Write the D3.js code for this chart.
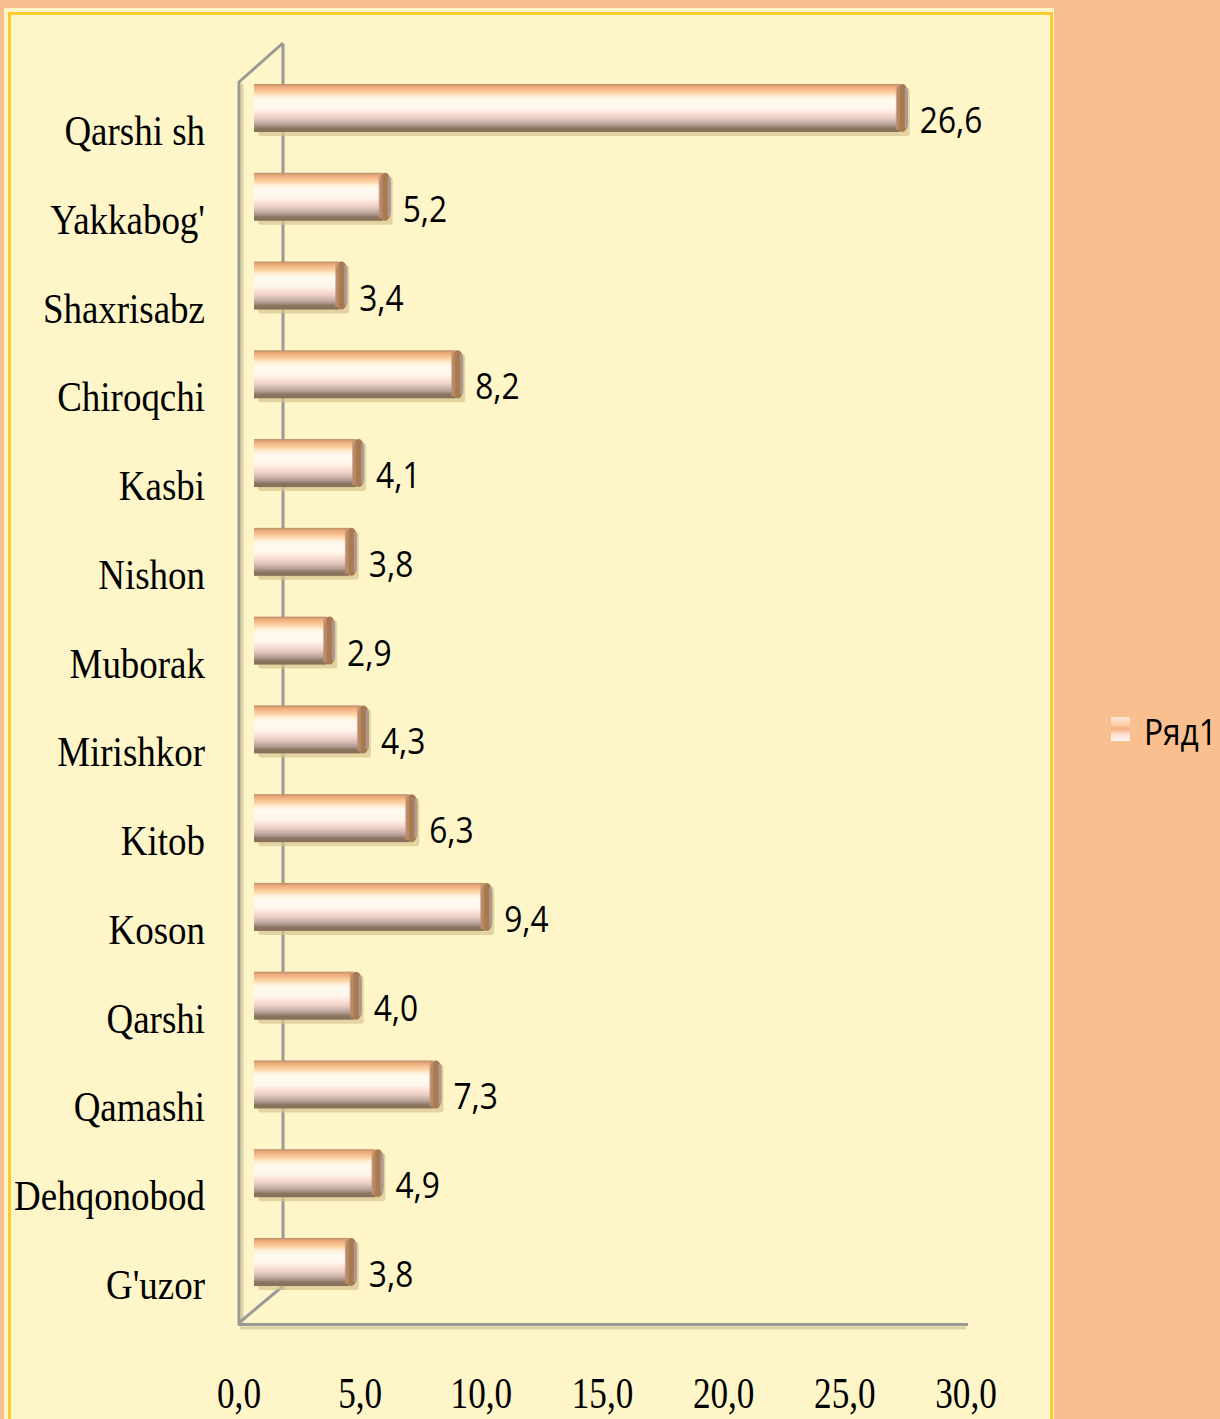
<!DOCTYPE html>
<html><head><meta charset="utf-8">
<script src="https://cdn.jsdelivr.net/npm/d3@7"></script>
<style>html,body{margin:0;padding:0;background:#F9BF8F;}svg{display:block;}</style>
</head><body>
<svg id="c" width="1220" height="1419"></svg>
<script>
const categories = ["Qarshi sh","Yakkabog'","Shaxrisabz","Chiroqchi","Kasbi","Nishon","Muborak","Mirishkor","Kitob","Koson","Qarshi","Qamashi","Dehqonobod","G'uzor"];
const values = [26.6,5.2,3.4,8.2,4.1,3.8,2.9,4.3,6.3,9.4,4.0,7.3,4.9,3.8];
const tickValues = [0,5,10,15,20,25,30];
const seriesName = "Ряд1";

const svg = d3.select("#c");
const fmt = v => v.toFixed(1).replace(".", ",");

// panel
svg.append("rect").attr("x",0).attr("y",0).attr("width",1220).attr("height",1419).attr("fill","#F9BF8F");
svg.append("rect").attr("x",4).attr("y",8).attr("width",1050).attr("height",1430).attr("fill","#FEF6C8");
svg.append("rect").attr("x",9.5).attr("y",13.5).attr("width",1042).attr("height",1430)
  .attr("fill","#FEF6C8").attr("stroke","#FFC934").attr("stroke-width",3);

const defs = svg.append("defs");
const g1 = defs.append("linearGradient").attr("id","barGrad").attr("x1",0).attr("y1",0).attr("x2",0).attr("y2",1);
[[0,"#b88c68"],[0.05,"#e8a878"],[0.1,"#f4b888"],[0.18,"#fdd2a2"],[0.26,"#fff0d8"],[0.34,"#fffaf0"],[0.52,"#fff6ec"],[0.6,"#fde4da"],[0.7,"#ecd0c6"],[0.78,"#d0b8b0"],[0.86,"#b09a90"],[0.92,"#8c7460"],[1,"#857058"]]
 .forEach(([o,c])=>g1.append("stop").attr("offset",o).attr("stop-color",c));
const g2 = defs.append("linearGradient").attr("id","legGrad").attr("x1",0).attr("y1",0).attr("x2",0).attr("y2",1);
[[0,"#fde8e0"],[0.3,"#fcd0a8"],[0.5,"#f4b080"],[0.75,"#fde6d8"],[1,"#fff4ee"]]
 .forEach(([o,c])=>g2.append("stop").attr("offset",o).attr("stop-color",c));

// scales
const yC = d3.scalePoint().domain(categories).range([108, 1262]);
const xBar = d3.scaleLinear().domain([0,30]).range([265, 990]);
const xAxis = d3.scaleLinear().domain([0,30]).range([239, 966]);
const barH = 48;
const barLeft = xBar(0) - 11;

// 3D frame lines
const gray = "#9a9a96";
svg.append("line").attr("x1",283).attr("y1",44).attr("x2",283).attr("y2",1290).attr("stroke",gray).attr("stroke-width",3);
svg.append("line").attr("x1",242).attr("y1",84).attr("x2",242).attr("y2",1326).attr("stroke","#dcd2a6").attr("stroke-width",3);
svg.append("line").attr("x1",239).attr("y1",81).attr("x2",239).attr("y2",1325).attr("stroke",gray).attr("stroke-width",3);
svg.append("line").attr("x1",239).attr("y1",82).attr("x2",283).attr("y2",43).attr("stroke",gray).attr("stroke-width",3);
svg.append("line").attr("x1",240).attr("y1",1322).attr("x2",283).attr("y2",1286).attr("stroke",gray).attr("stroke-width",3);
svg.append("line").attr("x1",240).attr("y1",1328).attr("x2",966).attr("y2",1328).attr("stroke","#dcd2a6").attr("stroke-width",3);
svg.append("line").attr("x1",238).attr("y1",1324.5).attr("x2",968).attr("y2",1324.5).attr("stroke",gray).attr("stroke-width",3);

// bars
const bars = svg.append("g").selectAll("g").data(categories).join("g");
bars.append("rect").attr("class","shadow")
  .attr("x", barLeft+4).attr("y", d=>yC(d)-barH/2+4)
  .attr("width", (d,i)=>xBar(values[i])-barLeft-2).attr("height", barH)
  .attr("fill","#d6c490").attr("opacity",0.7).attr("rx",3);
bars.append("rect")
  .attr("x", barLeft).attr("y", d=>yC(d)-barH/2)
  .attr("width", (d,i)=>xBar(values[i])-barLeft-8).attr("height", barH)
  .attr("fill","url(#barGrad)");
bars.append("rect")
  .attr("x", (d,i)=>xBar(values[i])-11).attr("y", d=>yC(d)-barH/2)
  .attr("width", 11).attr("height", barH).attr("rx",5).attr("ry",10)
  .attr("fill","#a87a52");
bars.append("rect")
  .attr("x", (d,i)=>xBar(values[i])-3).attr("y", d=>yC(d)-barH/2+4)
  .attr("width", 3).attr("height", barH-8)
  .attr("fill","#b0a0a0").attr("opacity",0.8);
bars.append("rect")
  .attr("x", (d,i)=>xBar(values[i])-12).attr("y", d=>yC(d)-barH/2+2)
  .attr("width", 4).attr("height", barH-4)
  .attr("fill","#c09070").attr("opacity",0.7);

// value labels
svg.append("g").selectAll("text").data(categories).join("text")
  .attr("transform",(d,i)=>`translate(${xBar(values[i])+12},${yC(d)+25}) scale(0.88,1)`)
  .attr("font-family","'Open Sans','Noto Sans',sans-serif").attr("font-size",36).attr("fill","#000")
  .text((d,i)=>fmt(values[i]));

// category labels
svg.append("g").selectAll("text").data(categories).join("text")
  .attr("transform",d=>`translate(205,${yC(d)+37}) scale(0.88,1)`)
  .attr("text-anchor","end")
  .attr("font-family","'Liberation Serif','Times New Roman',serif").attr("font-size",42).attr("fill","#000")
  .text(d=>d);

// x tick labels
svg.append("g").selectAll("text").data(tickValues).join("text")
  .attr("transform",d=>`translate(${xAxis(d)},1408) scale(0.8,1)`)
  .attr("text-anchor","middle")
  .attr("font-family","'Liberation Serif','Times New Roman',serif").attr("font-size",44).attr("fill","#000")
  .text(d=>fmt(d));

// legend
svg.append("rect").attr("x",1111).attr("y",717).attr("width",19).attr("height",24).attr("fill","url(#legGrad)");
svg.append("text").attr("transform","translate(1144,745) scale(0.88,1)")
  .attr("font-family","'Open Sans','Noto Sans',sans-serif").attr("font-size",36).attr("fill","#000")
  .text(seriesName);
</script>
</body></html>
